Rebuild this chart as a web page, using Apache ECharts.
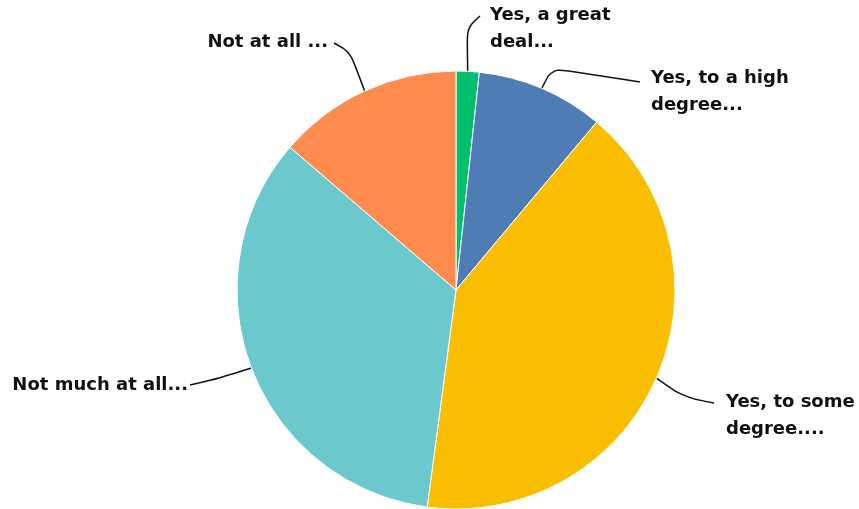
<!DOCTYPE html>
<html><head><meta charset="utf-8">
<script src="https://cdn.jsdelivr.net/npm/echarts@6/dist/echarts.min.js"></script>
<style>html,body{margin:0;padding:0;background:#fff}#c{width:859px;height:509px}</style>
</head><body><div id="c"></div>
<script>
const categories = ["Yes, a great\ndeal...", "Yes, to a high\ndegree...", "Yes, to some\ndegree....", "Not much at all...", "Not at all ..."];
const values = [1.7, 9.4, 41.0, 34.2, 13.7];
const colors = ["#00bf6f", "#507cb6", "#f9be00", "#6bc8cd", "#ff8b4f"];

// label anchor placement (layout only)
const labelPos = [
  {x: 490, y: 2, align: 'left', mid: [[467, 28], [480, 16]]},
  {x: 651, y: 65, align: 'left', mid: [[552, 68], [640, 82]]},
  {x: 726, y: 389, align: 'left', mid: [[683, 397], [714, 403]]},
  {x: 188, y: 372, align: 'right', mid: [[220, 378], [190, 385]]},
  {x: 328, y: 29, align: 'right', mid: [[350, 52], [334, 43]]}
];

const chart = echarts.init(document.getElementById('c'));
chart.setOption({
  animation: false,
  series: [{
    type: 'pie',
    center: [456, 290],
    radius: 219,
    startAngle: 90,
    clockwise: true,
    data: categories.map((n, i) => ({name: n, value: values[i], itemStyle: {color: colors[i]}})),
    itemStyle: {borderColor: '#fff', borderWidth: 1},
    label: {
      show: true,
      formatter: '{b}',
      fontFamily: 'DejaVu Sans',
      fontWeight: 'bold',
      fontSize: 18,
      lineHeight: 27,
      color: '#111'
    },
    labelLine: {show: true, smooth: 0.3, lineStyle: {color: '#111', width: 1.5}},
    labelLayout: function (p) {
      const L = labelPos[p.dataIndex];
      const start = p.labelLinePoints ? p.labelLinePoints[0] : null;
      const pts = start ? [start, ...L.mid] : undefined;
      return {x: L.x, y: L.y, align: L.align, verticalAlign: 'top', labelLinePoints: pts};
    }
  }]
});
</script></body></html>
